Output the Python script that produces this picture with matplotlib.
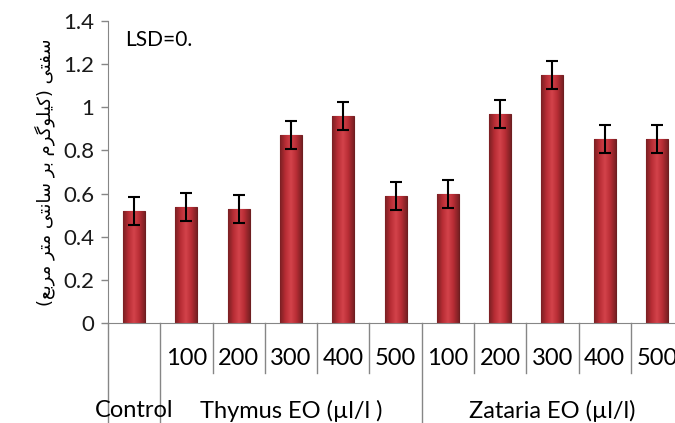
import numpy as np
import matplotlib
matplotlib.use("Agg")
import matplotlib.pyplot as plt
from matplotlib.colors import LinearSegmentedColormap
from matplotlib.transforms import blended_transform_factory

plt.rcParams['font.family'] = ['Lato', 'DejaVu Sans']

# data
values = [0.52, 0.54, 0.53, 0.87, 0.96, 0.59, 0.60, 0.97, 1.15, 0.855, 0.855]
errors = [0.065, 0.065, 0.065, 0.065, 0.065, 0.065, 0.065, 0.065, 0.065, 0.065, 0.065]
dose_labels = ['', '100', '200', '300', '400', '500', '100', '200', '300', '400', '500']
groups = ['Control', 'Thymus EO (µl/l )', 'Zataria EO (µl/l)']
group_spans = [(0, 0), (1, 5), (6, 10)]
ylabel_fa = 'سفتی (کیلوگرم بر سانتی متر مربع)'

# minimal arabic shaping (no reshaper lib available)
forms = {
    'ا': ('\uFE8D', '\uFE8E', None, None),
    'ب': ('\uFE8F', '\uFE90', '\uFE91', '\uFE92'),
    'ت': ('\uFE95', '\uFE96', '\uFE97', '\uFE98'),
    'ر': ('\uFEAD', '\uFEAE', None, None),
    'س': ('\uFEB1', '\uFEB2', '\uFEB3', '\uFEB4'),
    'ع': ('\uFEC9', '\uFECA', '\uFECB', '\uFECC'),
    'ف': ('\uFED1', '\uFED2', '\uFED3', '\uFED4'),
    'ل': ('\uFEDD', '\uFEDE', '\uFEDF', '\uFEE0'),
    'م': ('\uFEE1', '\uFEE2', '\uFEE3', '\uFEE4'),
    'ن': ('\uFEE5', '\uFEE6', '\uFEE7', '\uFEE8'),
    'و': ('\uFEED', '\uFEEE', None, None),
    'ی': ('\uFBFC', '\uFBFD', '\uFBFE', '\uFBFF'),
    'ک': ('\uFB8E', '\uFB8F', '\uFB90', '\uFB91'),
    'گ': ('\uFB92', '\uFB93', '\uFB94', '\uFB95'),
}


def shape(s):
    out = []
    for i, c in enumerate(s):
        if c not in forms:
            out.append(c)
            continue
        prev = s[i - 1] if i > 0 else ''
        nxt = s[i + 1] if i < len(s) - 1 else ''
        jp = prev in forms and forms[prev][2] is not None
        jn = forms[c][2] is not None and nxt in forms
        f = forms[c]
        if jp and jn:
            out.append(f[3])
        elif jp:
            out.append(f[1])
        elif jn:
            out.append(f[2])
        else:
            out.append(f[0])
    vis = ''.join(reversed(out))
    return vis.translate(str.maketrans('()', ')('))


x = np.arange(len(values))
fig = plt.figure(figsize=(6.75, 4.23), dpi=100)
ax = fig.add_axes([0.16, 0.2364, 0.852, 0.7139])

bars = ax.bar(x, values, width=0.42, color='#c4303a', edgecolor='#6e1e20', linewidth=0.8)

# cylinder-ish shading inside each bar
cyl = LinearSegmentedColormap.from_list('cyl', ['#7a2023', '#b82d35', '#d3434b', '#b82d35', '#7a2023'])
grad = np.linspace(0, 1, 64).reshape(1, -1)
for b in bars:
    x0, w, h = b.get_x(), b.get_width(), b.get_height()
    im = ax.imshow(grad, cmap=cyl, extent=[x0, x0 + w, 0, h], aspect='auto', zorder=b.get_zorder())
    im.set_clip_path(b)

ax.errorbar(x, values, yerr=errors, fmt='none', ecolor='black', elinewidth=1.5,
            capsize=4.5, capthick=1.5, zorder=3)

ax.set_xlim(-0.5, 10.5)
ax.set_ylim(0, 1.4)
ax.set_yticks(np.arange(0, 1.41, 0.2))
ax.set_yticklabels(['0', '0.2', '0.4', '0.6', '0.8', '1', '1.2', '1.4'])
ax.set_xticks([])
for sp in ['top', 'right']:
    ax.spines[sp].set_visible(False)
for sp in ['left', 'bottom']:
    ax.spines[sp].set_color('#868686')
ax.tick_params(axis='y', colors='#868686', labelcolor='#1a1a1a', labelsize=16,
               length=5, width=1, direction='out', pad=5)

ax.set_ylabel(shape(ylabel_fa), family='DejaVu Sans', fontsize=13, labelpad=6)

ax.text(0.03, 1.31, 'LSD=0.', transform=blended_transform_factory(ax.transAxes, ax.transData),
        fontsize=15, va='center', ha='left')

# category axis: dose row, group row and separators
trans = ax.get_xaxis_transform()
for i, lab in enumerate(dose_labels):
    ax.text(i, -0.116, lab, transform=trans, ha='center', va='center', fontsize=17)
for g, (a, b) in zip(groups, group_spans):
    ax.text((a + b) / 2, -0.29, g, transform=trans, ha='center', va='center', fontsize=17)

long_seps = [-0.5, 0.5, 5.5]
for b in np.arange(-0.5, 11, 1.0):
    low = -0.34 if b in long_seps else -0.166
    ax.plot([b, b], [0, low], transform=trans, color='#868686', lw=1, clip_on=False)

fig.savefig('out.png', dpi=100)
